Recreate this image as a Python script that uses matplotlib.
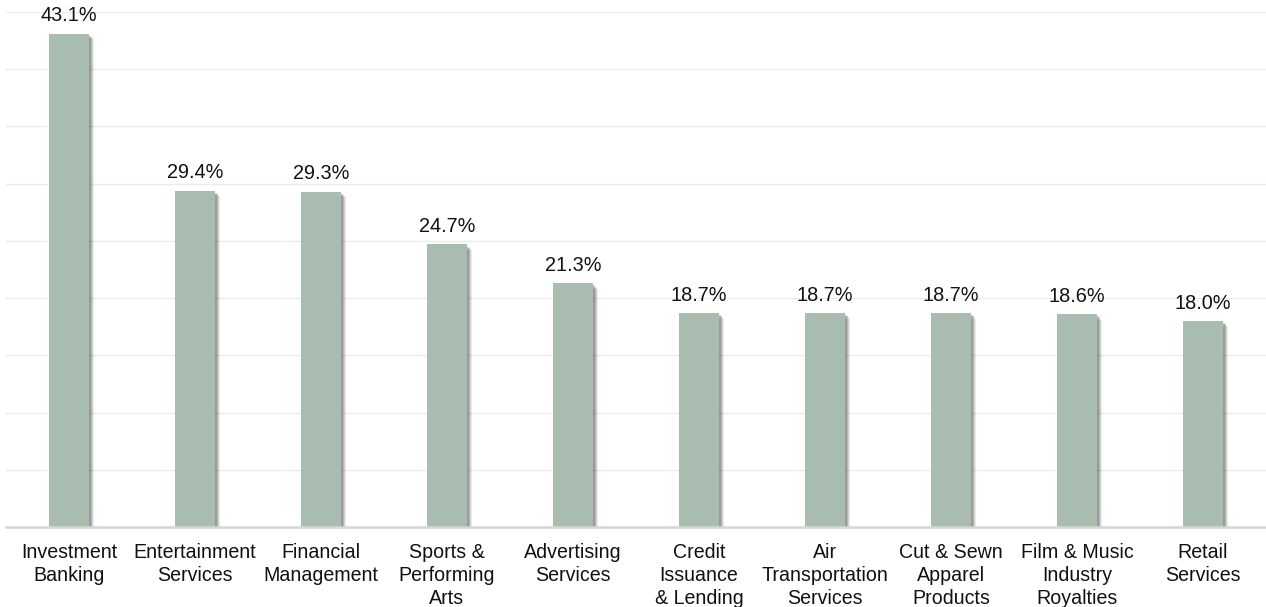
import matplotlib
matplotlib.use("Agg")
import matplotlib.pyplot as plt
import matplotlib.patheffects as pe

plt.rcParams['font.family'] = ['Liberation Sans', 'DejaVu Sans']

categories = [
    "Investment\nBanking",
    "Entertainment\nServices",
    "Financial\nManagement",
    "Sports &\nPerforming\nArts",
    "Advertising\nServices",
    "Credit\nIssuance\n& Lending",
    "Air\nTransportation\nServices",
    "Cut & Sewn\nApparel\nProducts",
    "Film & Music\nIndustry\nRoyalties",
    "Retail\nServices",
]
values = [43.1, 29.4, 29.3, 24.7, 21.3, 18.7, 18.7, 18.7, 18.6, 18.0]

fig = plt.figure(figsize=(12.66, 6.07), dpi=100)
ax = fig.add_axes([6 / 1266, 1 - 527 / 607, 1 - 6 / 1266, (527 - 12) / 607])

x = list(range(len(values)))
bars = ax.bar(x, values, width=0.315, color="#a8bdb0", zorder=3)

# soft drop shadow built from a few stacked translucent offsets
shadow = [
    pe.SimplePatchShadow(offset=(d, -d), shadow_rgbFace="#555555", alpha=a)
    for d, a in [(4.0, 0.12), (3.2, 0.16), (2.4, 0.22), (1.6, 0.28)]
]
for b in bars:
    b.set_path_effects(shadow + [pe.Normal()])

for xi, v in zip(x, values):
    ax.annotate(f"{v:.1f}%", (xi, v), xytext=(0, 6), textcoords="offset points",
                ha="center", va="bottom", fontsize=14.3, color="#111111")

ax.set_xlim(-0.5, len(values) - 0.5)
ax.set_ylim(0, 45)
ax.set_yticks(range(0, 46, 5))
ax.yaxis.grid(True, color="#ebebeb", linewidth=1.0, zorder=0)
ax.tick_params(axis="y", left=False, labelleft=False)
ax.set_xticks(x)
ax.set_xticklabels(categories, fontsize=14.1, color="#111111", linespacing=1.26)
ax.tick_params(axis="x", bottom=False, pad=8)
for side in ["left", "right", "top"]:
    ax.spines[side].set_visible(False)
ax.spines["bottom"].set_color("#d6d6d6")
ax.spines["bottom"].set_linewidth(1.8)
ax.spines["bottom"].set_zorder(4)

fig.savefig("out.png", dpi=100)
